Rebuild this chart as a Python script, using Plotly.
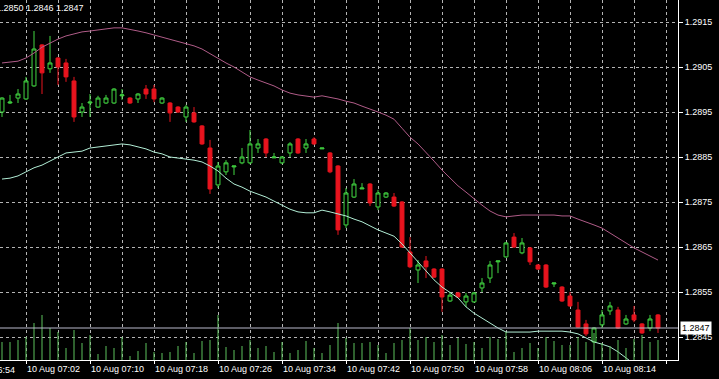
import pandas as pd
import plotly.graph_objects as go

# ---------------- data (EURUSD M1, 10 Aug) ----------------
start_time = "2010-08-10 06:59"
n_bars = 83
times = pd.date_range(start_time, periods=n_bars, freq="min")

opens = [1.28950, 1.28970, 1.28981, 1.28979, 1.29008, 1.29099, 1.29046, 1.29070, 1.29059, 1.29019,
         1.28950, 1.28970, 1.28961, 1.28970, 1.28970, 1.28986, 1.28981, 1.28979, 1.29001, 1.29001,
         1.28970, 1.28970, 1.28961, 1.28939, 1.28948, 1.28919, 1.28870, 1.28788, 1.28817, 1.28828,
         1.28837, 1.28837, 1.28870, 1.28890, 1.28848, 1.28837, 1.28859, 1.28890, 1.28870, 1.28890,
         1.28868, 1.28859, 1.28830, 1.28699, 1.28761, 1.28779, 1.28790, 1.28739, 1.28761, 1.28761,
         1.28750, 1.28639, 1.28599, 1.28619, 1.28601, 1.28601, 1.28530, 1.28548, 1.28528, 1.28528,
         1.28559, 1.28581, 1.28617, 1.28628, 1.28672, 1.28637, 1.28648, 1.28610, 1.28610, 1.28568,
         1.28561, 1.28541, 1.28510, 1.28479, 1.28439, 1.28477, 1.28508, 1.28510, 1.28479, 1.28499,
         1.28479, 1.28470, 1.28499]
highs = [1.28983, 1.28988, 1.29001, 1.29028, 1.29130, 1.29101, 1.29119, 1.29072, 1.29068, 1.29028,
         1.28970, 1.28990, 1.28986, 1.28988, 1.29003, 1.29001, 1.28983, 1.28992, 1.29010, 1.29010,
         1.28983, 1.28972, 1.28963, 1.28966, 1.28961, 1.28921, 1.28888, 1.28839, 1.28843, 1.28830,
         1.28870, 1.28910, 1.28890, 1.28892, 1.28859, 1.28852, 1.28883, 1.28892, 1.28890, 1.28894,
         1.28870, 1.28861, 1.28832, 1.28781, 1.28801, 1.28792, 1.28792, 1.28777, 1.28772, 1.28770,
         1.28752, 1.28672, 1.28621, 1.28630, 1.28603, 1.28603, 1.28550, 1.28550, 1.28548, 1.28550,
         1.28581, 1.28619, 1.28619, 1.28661, 1.28681, 1.28670, 1.28650, 1.28612, 1.28612, 1.28570,
         1.28563, 1.28550, 1.28528, 1.28488, 1.28472, 1.28510, 1.28528, 1.28517, 1.28499, 1.28519,
         1.28481, 1.28499, 1.28501]
lows = [1.28939, 1.28968, 1.28970, 1.28977, 1.29006, 1.28990, 1.29037, 1.29010, 1.29017, 1.28928,
        1.28939, 1.28939, 1.28959, 1.28968, 1.28968, 1.28977, 1.28968, 1.28970, 1.28979, 1.28972,
        1.28968, 1.28928, 1.28948, 1.28928, 1.28926, 1.28877, 1.28768, 1.28781, 1.28810, 1.28810,
        1.28834, 1.28834, 1.28859, 1.28850, 1.28848, 1.28834, 1.28850, 1.28857, 1.28859, 1.28877,
        1.28868, 1.28814, 1.28677, 1.28692, 1.28759, 1.28779, 1.28741, 1.28732, 1.28759, 1.28739,
        1.28648, 1.28603, 1.28570, 1.28581, 1.28581, 1.28506, 1.28528, 1.28537, 1.28517, 1.28526,
        1.28550, 1.28570, 1.28592, 1.28626, 1.28648, 1.28634, 1.28610, 1.28599, 1.28559, 1.28561,
        1.28528, 1.28517, 1.28470, 1.28452, 1.28437, 1.28470, 1.28499, 1.28468, 1.28477, 1.28483,
        1.28457, 1.28463, 1.28459]
closes = [1.28981, 1.28972, 1.28990, 1.29019, 1.29090, 1.29037, 1.29059, 1.29050, 1.29028, 1.28939,
          1.28961, 1.28972, 1.28981, 1.28981, 1.29001, 1.28988, 1.28970, 1.28990, 1.28990, 1.28979,
          1.28981, 1.28948, 1.28950, 1.28961, 1.28928, 1.28879, 1.28779, 1.28830, 1.28837, 1.28830,
          1.28850, 1.28879, 1.28879, 1.28859, 1.28850, 1.28850, 1.28879, 1.28859, 1.28879, 1.28879,
          1.28870, 1.28817, 1.28688, 1.28770, 1.28790, 1.28781, 1.28748, 1.28770, 1.28770, 1.28741,
          1.28650, 1.28606, 1.28610, 1.28606, 1.28583, 1.28539, 1.28543, 1.28539, 1.28541, 1.28548,
          1.28570, 1.28610, 1.28619, 1.28659, 1.28650, 1.28659, 1.28617, 1.28601, 1.28561, 1.28570,
          1.28530, 1.28519, 1.28472, 1.28457, 1.28470, 1.28499, 1.28519, 1.28470, 1.28490, 1.28488,
          1.28459, 1.28490, 1.28470]
volumes = [18, 18, 20, 23, 37, 45, 32, 28, 12, 30, 17, 25, 6, 14, 12, 23, 4, 9, 17, 8,
           7, 8, 14, 18, 7, 19, 20, 45, 13, 10, 14, 20, 12, 14, 8, 18, 7, 10, 19, 12,
           7, 15, 37, 22, 17, 17, 18, 15, 7, 17, 20, 32, 20, 23, 18, 25, 15, 22, 16, 18,
           12, 23, 21, 28, 8, 12, 17, 12, 23, 19, 15, 15, 23, 18, 27, 17, 14, 20, 12, 21,
           25, 18, 20]
upper_band = [1.29059, 1.29061, 1.29063, 1.29070, 1.29081, 1.29094, 1.29103, 1.29112, 1.29119, 1.29123,
              1.29128, 1.29130, 1.29132, 1.29134, 1.29137, 1.29137, 1.29134, 1.29130, 1.29126, 1.29121,
              1.29117, 1.29112, 1.29106, 1.29101, 1.29097, 1.29090, 1.29079, 1.29070, 1.29059, 1.29050,
              1.29039, 1.29028, 1.29021, 1.29014, 1.29008, 1.28999, 1.28992, 1.28988, 1.28986, 1.28983,
              1.28986, 1.28983, 1.28979, 1.28974, 1.28970, 1.28963, 1.28957, 1.28950, 1.28943, 1.28934,
              1.28914, 1.28894, 1.28879, 1.28861, 1.28841, 1.28821, 1.28803, 1.28786, 1.28772, 1.28757,
              1.28743, 1.28730, 1.28721, 1.28717, 1.28719, 1.28721, 1.28721, 1.28721, 1.28721, 1.28721,
              1.28719, 1.28719, 1.28712, 1.28706, 1.28699, 1.28692, 1.28681, 1.28670, 1.28659, 1.28648,
              1.28639, 1.28630, 1.28621]
lower_band = [1.28801, 1.28803, 1.28808, 1.28817, 1.28826, 1.28832, 1.28841, 1.28850, 1.28859, 1.28861,
              1.28863, 1.28870, 1.28872, 1.28874, 1.28877, 1.28879, 1.28877, 1.28872, 1.28868, 1.28861,
              1.28857, 1.28850, 1.28848, 1.28846, 1.28843, 1.28839, 1.28830, 1.28819, 1.28803, 1.28790,
              1.28783, 1.28774, 1.28768, 1.28761, 1.28752, 1.28743, 1.28734, 1.28728, 1.28726, 1.28726,
              1.28732, 1.28728, 1.28723, 1.28719, 1.28712, 1.28706, 1.28697, 1.28688, 1.28681, 1.28674,
              1.28657, 1.28637, 1.28617, 1.28599, 1.28577, 1.28561, 1.28548, 1.28537, 1.28517, 1.28503,
              1.28492, 1.28481, 1.28470, 1.28461, 1.28461, 1.28461, 1.28461, 1.28463, 1.28463, 1.28463,
              1.28463, 1.28461, 1.28457, 1.28448, 1.28439, 1.28434, 1.28428, 1.28417, 1.28403, 1.28390,
              1.28377, 1.28363, 1.28350]
last_price = 1.2847
header_text = "1.2850 1.2846 1.2847"
cut_time_label = "10 Aug 06:54"
price_ticks = [1.2845, 1.2855, 1.2865, 1.2875, 1.2885, 1.2895, 1.2905, 1.2915]

# ---------------- styling ----------------
FONT = "Liberation Sans"
GREEN = "#42d842"
RED = "#e8141e"
GRID = "#b4b4b4"
x_range = ["2010-08-10 06:58:45", "2010-08-10 08:23:30"]
y_range = [1.283989, 1.291989]

fig = go.Figure()

fig.add_trace(go.Bar(
    x=times, y=volumes, yaxis="y2", width=7500,
    marker=dict(color="#5cc25c", line=dict(width=0)),
    hoverinfo="skip", showlegend=False))

fig.add_trace(go.Scatter(
    x=times, y=upper_band, mode="lines",
    line=dict(color="#b05c88", width=1), hoverinfo="skip", showlegend=False))
fig.add_trace(go.Scatter(
    x=times, y=lower_band, mode="lines",
    line=dict(color="#b2eed6", width=1), hoverinfo="skip", showlegend=False))

fig.add_trace(go.Candlestick(
    x=times, open=opens, high=highs, low=lows, close=closes,
    increasing=dict(line=dict(color=GREEN, width=1), fillcolor="#000000"),
    decreasing=dict(line=dict(color=RED, width=1), fillcolor=RED),
    whiskerwidth=0, hoverinfo="skip", showlegend=False))

fig.add_shape(type="line", xref="paper", x0=0, x1=1, yref="y",
              y0=last_price, y1=last_price,
              line=dict(color="#b9b9cc", width=1))

fig.add_annotation(xref="paper", x=1, xanchor="left", xshift=2,
                   yref="y", y=last_price, yanchor="middle",
                   text=f"{last_price:.4f}", showarrow=False,
                   bgcolor="#ffffff", borderpad=1,
                   font=dict(family=FONT, size=9, color="#000000"))

fig.add_annotation(xref="paper", x=0, xanchor="left", xshift=-6,
                   yref="paper", y=1, yanchor="top", yshift=-1,
                   text=header_text, showarrow=False,
                   font=dict(family=FONT, size=9, color="#ffffff"))

fig.add_annotation(xref="paper", x=0, xanchor="right", xshift=17,
                   yref="paper", y=0, yanchor="top", yshift=-3,
                   text=cut_time_label, showarrow=False,
                   font=dict(family=FONT, size=9, color="#ffffff"))

fig.update_layout(
    width=719, height=379,
    margin=dict(l=0, r=41, t=0, b=19),
    paper_bgcolor="#000000", plot_bgcolor="#000000",
    showlegend=False, hovermode=False,
    xaxis=dict(
        type="date", range=x_range, rangeslider=dict(visible=False),
        tick0="2010-08-10 07:02", dtick=480000,
        tickformat="%d %b %H:%M", ticklabelposition="outside right",
        ticks="outside", ticklen=3, tickcolor="#ffffff",
        tickfont=dict(family=FONT, size=9, color="#ffffff"),
        showgrid=True, gridcolor=GRID, gridwidth=1, griddash="3px,3px",
        minor=dict(tick0="2010-08-10 07:02", dtick=240000, showgrid=True,
                   gridcolor=GRID, gridwidth=1, griddash="3px,3px", ticklen=0),
        showline=True, linecolor="#ffffff", linewidth=1, mirror=True,
        zeroline=False, automargin=False, fixedrange=True),
    yaxis=dict(
        range=y_range, side="right",
        tickvals=price_ticks, tickformat=".4f",
        ticks="outside", ticklen=4, tickcolor="#ffffff",
        tickfont=dict(family=FONT, size=9, color="#ffffff"),
        showgrid=True, gridcolor=GRID, gridwidth=1, griddash="3px,3px",
        showline=True, linecolor="#ffffff", linewidth=1, mirror=True,
        zeroline=False, automargin=False, fixedrange=True),
    yaxis2=dict(range=[0, 360], overlaying="y", visible=False, fixedrange=True),
)

fig.write_html(
    "out.html",
    config={"displayModeBar": False, "staticPlot": True},
    post_script="document.body.style.margin='0';document.body.style.padding='0';"
                "document.documentElement.style.overflow='hidden';",
)
